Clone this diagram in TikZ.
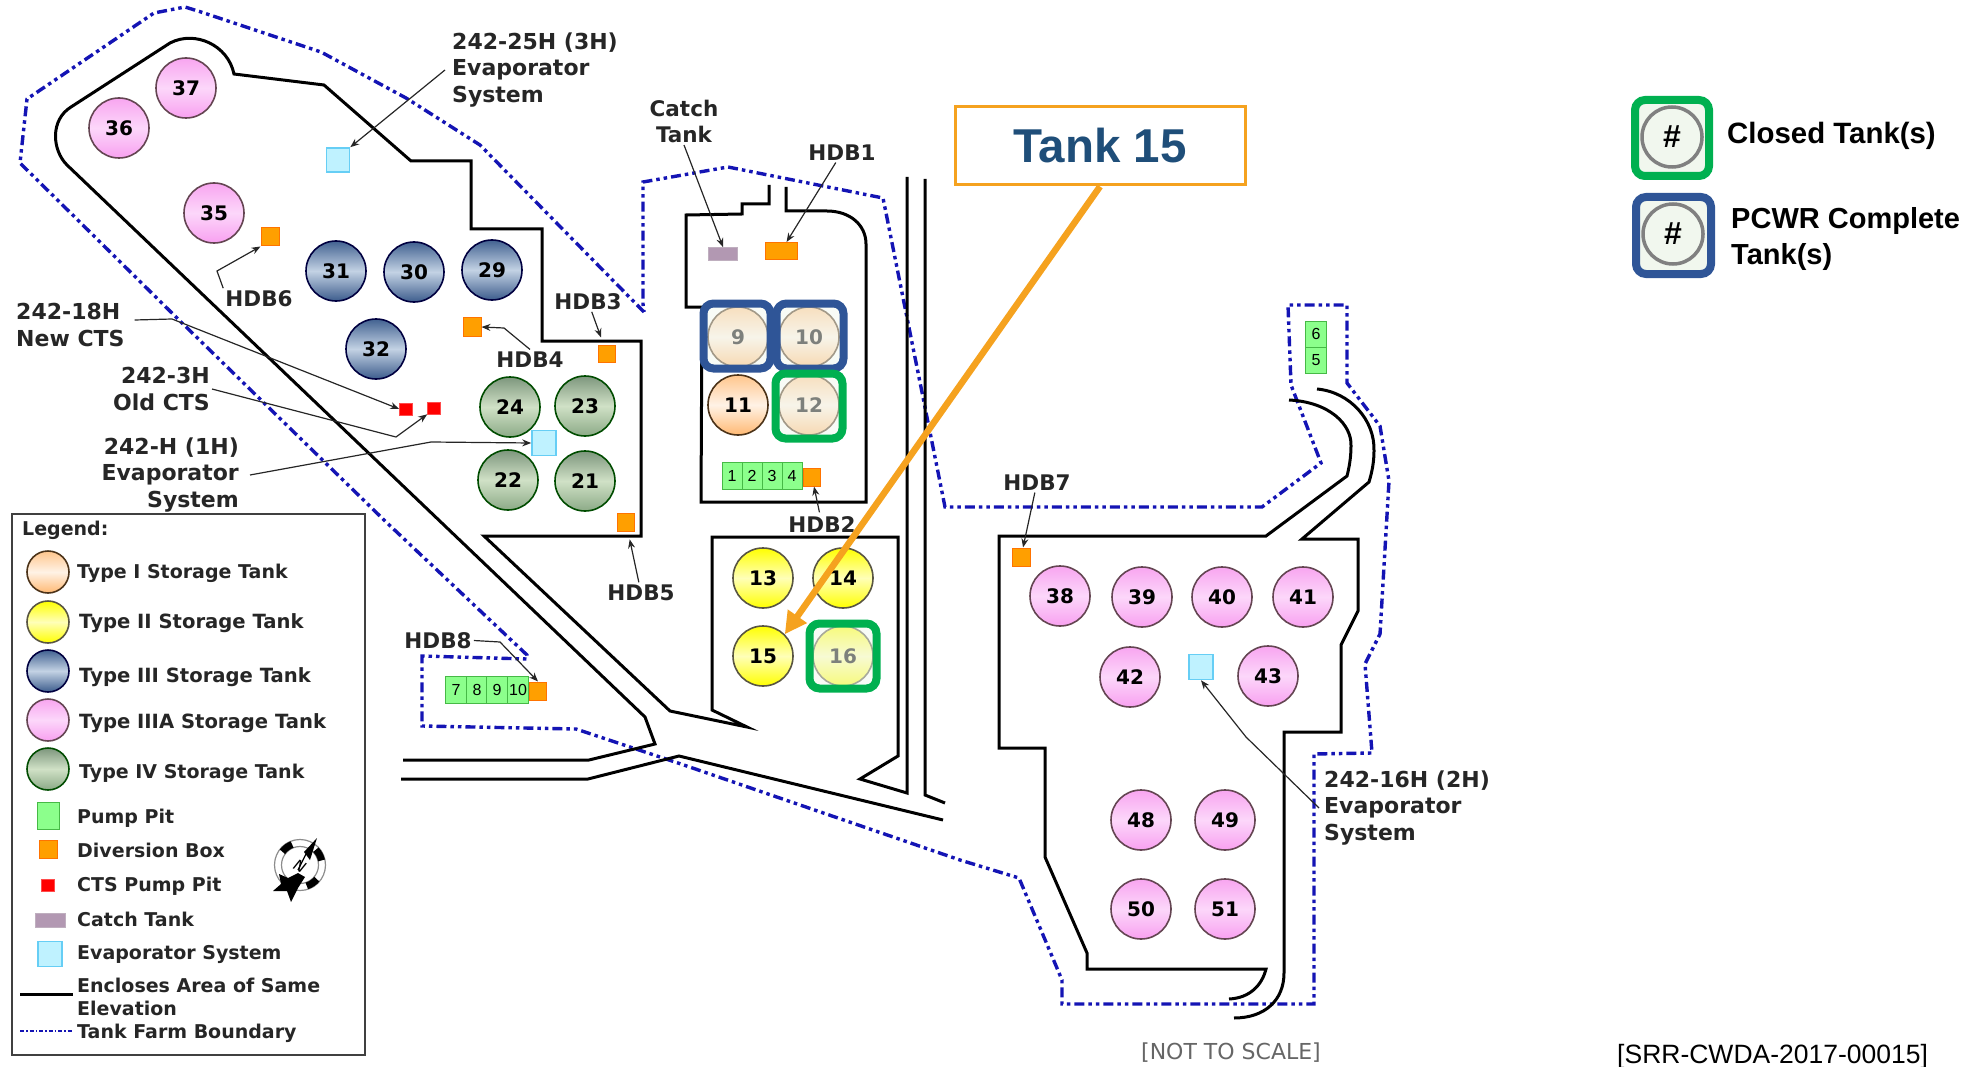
\documentclass[tikz,border=0pt]{standalone}
\usepackage{fontspec}
\setmainfont{DejaVu Sans}
\newfontfamily\arialfont{Liberation Sans}
\usetikzlibrary{arrows.meta}

\definecolor{boundblue}{HTML}{1414B4}
\definecolor{closedgreen}{HTML}{00B050}
\definecolor{pcwrblue}{HTML}{2F5597}
\definecolor{calloutorange}{HTML}{F5A21F}
\definecolor{titleblue}{HTML}{1F4E79}
\definecolor{markfill}{HTML}{F1F7EE}

\tikzset{
  tankbase/.style={circle, minimum size=60pt, inner sep=0pt, line width=1.6pt,
    font=\fontsize{20}{24}\selectfont\bfseries},
  typeone/.style={tankbase, draw=black!60!brown, top color=orange!45, bottom color=orange!55, middle color=orange!10},
  typetwo/.style={tankbase, draw=black!75!yellow, top color=yellow, bottom color=yellow, middle color=yellow!28},
  typethree/.style={tankbase, draw=black!75!blue, top color={rgb,255:red,66;green,98;blue,145}, bottom color={rgb,255:red,60;green,92;blue,140}, middle color={rgb,255:red,195;green,210;blue,228}},
  typefour/.style={tankbase, draw=black!70!green, top color={rgb,255:red,125;green,150;blue,125}, bottom color={rgb,255:red,140;green,170;blue,135}, middle color={rgb,255:red,208;green,225;blue,198}},
  typefive/.style={tankbase, draw=black!70!magenta, top color={rgb,255:red,248;green,165;blue,240}, bottom color={rgb,255:red,248;green,160;blue,240}, middle color={rgb,255:red,252;green,215;blue,250}},
  divbox/.style={rectangle, inner sep=0pt, fill=orange!75!yellow, draw=orange!90!red, line width=1pt},
  evapbox/.style={rectangle, inner sep=0pt, fill=blue!20!cyan!25, draw=cyan!60, line width=1.6pt},
  catchbox/.style={rectangle, inner sep=0pt, fill=violet!35!gray!60, draw=violet!25!gray!50, line width=.8pt},
  ctsbox/.style={rectangle, inner sep=0pt, fill=red, draw=red!70, line width=.6pt, minimum width=13pt, minimum height=12pt},
  pitbox/.style={rectangle, inner sep=0pt, fill=green!45, draw=green!45!gray, line width=1pt,
    font=\arialfont\fontsize{16}{18}\selectfont},
  closedmark/.style={rectangle, rounded corners=10pt, line width=8pt, draw=closedgreen,
    fill=markfill, fill opacity=.52, draw opacity=1, minimum width=67pt, minimum height=65pt},
  pcwrmark/.style={closedmark, draw=pcwrblue},
  keyring/.style={circle, draw=gray, line width=3.5pt, minimum size=60pt, inner sep=0pt,
    font=\arialfont\fontsize{32}{36}\selectfont\bfseries},
  slope/.style={line width=3pt, line join=miter},
  boundary/.style={boundblue, line width=3.4pt, dash pattern=on 10pt off 4pt on 3.5pt off 4pt on 3.5pt off 4pt},
  leader/.style={-{Stealth[length=9pt,width=7pt]}, line width=1.2pt, black!85},
  maplabel/.style={inner sep=2pt, yshift=-.5pt, align=left, font=\fontsize{21.5}{26}\selectfont\bfseries, black!85},
  longlabel/.style={maplabel, yshift=-1.5pt, font=\fontsize{22}{26.5}\selectfont\bfseries},
  keylabel/.style={inner sep=0pt, anchor=west, yshift=-1.5pt, font=\fontsize{19.6}{23}\selectfont\bfseries, black!85},
  keysmall/.style={keylabel, font=\fontsize{19}{23}\selectfont\bfseries},
}

\begin{document}
\begin{tikzpicture}[x=1pt, y=-1pt]
  \useasboundingbox (0,0) rectangle (1985,1067);

  % Tank farm boundary
  \draw[boundary] (644,312) -- (480,145) -- (406,98) -- (321,52) -- (201,12) -- (185,7) -- (154,13)
    -- (27,99) -- (20,163) -- (179,320) -- (384,520) -- (527,655) -- (527,659) -- (422,656) -- (422,726)
    -- (576,729) -- (678,763) -- (960,860) -- (1019,878) -- (1062,980) -- (1062,1004) -- (1314,1004)
    -- (1314,754) -- (1372,753) -- (1365,664) -- (1380,634) -- (1389,481) -- (1380,426) -- (1347,383)
    -- (1347,305) -- (1288,305) -- (1291,385) -- (1321,463) -- (1262,507) -- (945,507) -- (883,198)
    -- (728,167) -- (643,182) -- (643,304) -- cycle;

  % Areas of same elevation
  \draw[slope] (403,760) -- (589,760) -- (655,744) -- (645,717) -- (67,165)
    .. controls (52,150) and (50,120) .. (71,107) -- (170,43)
    .. controls (195,30) and (228,45) .. (234,74) -- (324,85) -- (411,161) -- (471,161) -- (471,229)
    -- (542,229) -- (542,341) -- (641,341) -- (641,536) -- (484,536) -- (670,711) -- (747,727)
    -- (712,710) -- (712,537) -- (898,537) -- (898,756) -- (860,779) -- (907,793) -- (907,177);
  \draw[slope] (401,779) -- (588,779) -- (679,756) -- (943,820);
  \draw[slope] (925,179) -- (925,795) -- (945,803);
  \draw[slope] (769,185) -- (769,204) -- (742,204) -- (742,214) -- (686,215) -- (686,307) -- (702,307)
    -- (701,502) -- (866,502) -- (866,244) .. controls (866,225) and (850,211) .. (827,211)
    -- (786,211) -- (786,187);
  \draw[slope] (1289,400) .. controls (1330,402) and (1352,425) .. (1351,446)
    .. controls (1351,458) and (1349,468) .. (1347,476) -- (1266,536) -- (999,536) -- (999,748)
    -- (1045,748) -- (1045,857) -- (1087,953) -- (1087,969) -- (1266,969)
    .. controls (1262,985) and (1250,998) .. (1229,999);
  \draw[slope] (1317,389) .. controls (1350,392) and (1375,420) .. (1374,451)
    .. controls (1374,462) and (1372,472) .. (1369,482) -- (1302,539) -- (1358,539) -- (1358,611)
    -- (1341,645) -- (1341,732) -- (1284,732) -- (1284,973)
    .. controls (1284,1000) and (1265,1018) .. (1234,1018);

  % Tanks
  \foreach \tanknum/\px/\py in {9/738/337, 10/809/337, 11/738/405, 12/809/405}
    \node[typeone] (t\tanknum) at (\px,\py) {\tanknum};
  \foreach \tanknum/\px/\py in {13/763/578, 14/843/578, 15/763/656, 16/843/656}
    \node[typetwo] (t\tanknum) at (\px,\py) {\tanknum};
  \foreach \tanknum/\px/\py in {29/492/270, 30/414/272, 31/336/271, 32/376/349}
    \node[typethree] (t\tanknum) at (\px,\py) {\tanknum};
  \foreach \tanknum/\px/\py in {21/585/481, 22/508/480, 23/585/406, 24/510/407}
    \node[typefour] (t\tanknum) at (\px,\py) {\tanknum};
  \foreach \tanknum/\px/\py in {35/214/213, 36/119/128, 37/186/88, 38/1060/596, 39/1142/597, 40/1222/597,
      41/1303/597, 42/1130/677, 43/1268/676, 48/1141/820, 49/1225/820, 50/1141/909, 51/1225/909}
    \node[typefive] (t\tanknum) at (\px,\py) {\tanknum};

  % Closed and PCWR complete marks over the tanks
  \node[pcwrmark] (mark9) at (737,336) {};
  \node[pcwrmark] (mark10) at (810,336) {};
  \node[closedmark] (mark12) at (809,406) {};
  \node[closedmark] (mark16) at (843,656) {};

  % Pump pits
  \foreach \pitnum/\px in {1/732, 2/752, 3/772, 4/792}
    \node[pitbox, minimum width=20pt, minimum height=27pt] (pit\pitnum) at (\px,476) {\pitnum};
  \foreach \pitnum/\px in {7/456, 8/477, 9/497, 10/518}
    \node[pitbox, minimum width=20.5pt, minimum height=27pt] (pitw\pitnum) at (\px,690) {\pitnum};
  \foreach \pitnum/\py in {6/334, 5/360}
    \node[pitbox, minimum width=21pt, minimum height=26pt] (pit\pitnum) at (1316,\py) {\pitnum};

  % Diversion boxes
  \node[divbox, minimum width=32pt, minimum height=17pt] (hdb1) at (781,251) {};
  \node[divbox, minimum width=17pt, minimum height=18pt] (hdb2) at (812,477) {};
  \node[divbox, minimum width=17pt, minimum height=17pt] (hdb3) at (607,354) {};
  \node[divbox, minimum width=18pt, minimum height=19pt] (hdb4) at (472,327) {};
  \node[divbox, minimum width=17pt, minimum height=18pt] (hdb5) at (626,522) {};
  \node[divbox, minimum width=18pt, minimum height=18pt] (hdb6) at (270,237) {};
  \node[divbox, minimum width=18pt, minimum height=18pt] (hdb7) at (1021,557) {};
  \node[divbox, minimum width=17pt, minimum height=18pt] (hdb8) at (538,691) {};

  % Evaporators, CTS pits and catch tank
  \node[evapbox, minimum width=23pt, minimum height=24pt] (evap3h) at (338,160) {};
  \node[evapbox, minimum width=24pt, minimum height=25pt] (evap1h) at (544,443) {};
  \node[evapbox, minimum width=24pt, minimum height=25pt] (evap2h) at (1201,667) {};
  \node[ctsbox] (ctsnew) at (406,409) {};
  \node[ctsbox] (ctsold) at (434,408) {};
  \node[catchbox, minimum width=29pt, minimum height=13pt] (catch) at (723,254) {};

  % Map labels
  \node[longlabel, anchor=west] (lbl3h) at (450,68) {242-25H (3H)\\Evaporator\\System};
  \node[maplabel, align=center] (lblcatch) at (684,121) {Catch\\Tank};
  \node[maplabel] (lblhdb1) at (842,152) {HDB1};
  \node[maplabel] (lblhdb2) at (822,524) {HDB2};
  \node[maplabel] (lblhdb3) at (588,301) {HDB3};
  \node[maplabel] (lblhdb4) at (530,359) {HDB4};
  \node[maplabel] (lblhdb5) at (641,592) {HDB5};
  \node[maplabel] (lblhdb6) at (259,298) {HDB6};
  \node[maplabel] (lblhdb7) at (1037,482) {HDB7};
  \node[maplabel] (lblhdb8) at (438,640) {HDB8};
  \node[longlabel, anchor=west] (lblnew) at (14,323) {242-18H\\New CTS};
  \node[longlabel, anchor=east, align=right] (lblold) at (212,387) {242-3H\\Old CTS};
  \node[longlabel, anchor=east, align=right] (lbl1h) at (241,473) {242-H (1H)\\Evaporator\\System};
  \node[longlabel, anchor=west] (lbl2h) at (1322,806) {242-16H (2H)\\Evaporator\\System};

  % Leaders
  \coordinate (bendhdb4) at (504,328);
  \coordinate (bendhdb6) at (217,271);
  \coordinate (bendhdb8) at (500,642);
  \coordinate (bendnew) at (172,319);
  \coordinate (bendold) at (396,437);
  \coordinate (bend1h) at (431,442);
  \coordinate (bend2h) at (1246,737);
  \draw[leader] ([xshift=-5pt]lbl3h.west) -- (evap3h.north east);
  \draw[leader] (lblcatch.south) -- (catch.north);
  \draw[leader] (lblhdb1) -- (hdb1);
  \draw[leader, shorten <=2pt] (lblhdb2) -- (hdb2);
  \draw[leader, shorten >=8pt] (lblhdb3) -- (hdb3);
  \draw[leader] (lblhdb4.north) -- (bendhdb4) -- (hdb4.east);
  \draw[leader, shorten >=8pt] (lblhdb5) -- (hdb5);
  \draw[leader] (lblhdb6.north west) -- (bendhdb6) -- (hdb6.south west);
  \draw[leader] (lblhdb7) -- (hdb7);
  \draw[leader] (lblhdb8.east) -- (bendhdb8) -- (hdb8.north);
  \draw[leader] ([yshift=5pt, xshift=8pt]lblnew.east) -- (bendnew) -- (ctsnew.west);
  \draw[leader] (lblold.east) -- (bendold) -- (ctsold.south west);
  \draw[leader] ([xshift=9pt]lbl1h.east) -- (bend1h) -- (evap1h.west);
  \draw[leader] ([xshift=-3pt]lbl2h.west) -- (bend2h) -- (evap2h.south);

  % Legend
  \node[draw=black!75, line width=2pt, minimum width=353pt, minimum height=541pt, inner sep=0pt] (legendbox) at (188.5,784.5) {};
  \node[keysmall] (keytitle) at (22,529) {Legend:};
  \node[typeone, minimum size=42pt] (keyone) at (48,572) {};
  \node[typetwo, minimum size=42pt] (keytwo) at (48,622) {};
  \node[typethree, minimum size=42pt] (keythree) at (48,671) {};
  \node[typefive, minimum size=42pt] (keyfive) at (48,720) {};
  \node[typefour, minimum size=42pt] (keyfour) at (48,769) {};
  \node[pitbox, minimum width=22pt, minimum height=27pt] (keypit) at (48,816) {};
  \node[divbox, minimum width=18pt, minimum height=18pt] (keydiv) at (48,849) {};
  \node[ctsbox] (keycts) at (48,885) {};
  \node[catchbox, minimum width=30pt, minimum height=14pt] (keycatch) at (50,920) {};
  \node[evapbox, minimum width=24pt, minimum height=25pt] (keyevap) at (50,954) {};
  \coordinate (keyslopea) at (20,994);
  \coordinate (keyslopeb) at (73,994);
  \coordinate (keybounda) at (20,1031);
  \coordinate (keyboundb) at (73,1031);
  \draw[slope] (keyslopea) -- (keyslopeb);
  \draw[boundblue, line width=1.6pt, dash pattern=on 4pt off 2pt on 1.5pt off 2pt] (keybounda) -- (keyboundb);
  \node[keysmall] (txtone) at (77,572) {Type I Storage Tank};
  \node[keylabel] (txttwo) at (79,622) {Type II Storage Tank};
  \node[keylabel] (txtthree) at (79,676) {Type III Storage Tank};
  \node[keylabel] (txtfive) at (79,722) {Type IIIA Storage Tank};
  \node[keysmall] (txtfour) at (79,772) {Type IV Storage Tank};
  \node[keysmall] (txtpit) at (77,817) {Pump Pit};
  \node[keysmall] (txtdiv) at (77,849) {Diversion Box};
  \node[keysmall] (txtcts) at (77,885) {CTS Pump Pit};
  \node[keysmall] (txtcatch) at (77,918) {Catch Tank};
  \node[keysmall] (txtevap) at (77,953) {Evaporator System};
  \node[keysmall] (txtslopea) at (77,984) {Encloses Area of Same};
  \node[keysmall] (txtslopeb) at (77,1007) {Elevation};
  \node[keysmall] (txtbound) at (77,1032) {Tank Farm Boundary};

  % North arrow
  \coordinate (compass) at (300,865);
  \draw[black!45, line width=1.2pt] (compass) circle (25.5) (compass) circle (18.5);
  \foreach \midangle in {-127, -28, 56}
    \draw[line width=7pt] (compass) ++(\midangle-16:22) arc (\midangle-16:\midangle+16:22);
  \fill (317,838) -- (310,860) -- (304,852) -- cycle;
  \draw[line width=1.2pt] (306,854) -- (298,870);
  \fill (279,874) -- (288,878) -- (298,873) -- (305,877) -- (298,888) -- (291,902) -- (287,891)
    -- (273,891) -- (281,884) -- cycle;
  \node[font=\fontsize{15}{17}\selectfont\itshape, rotate=-28, inner sep=0pt] (compassn) at (300,866) {N};

  % Callout
  \node[draw=calloutorange, line width=3pt, minimum width=290pt, minimum height=78pt, inner sep=0pt,
    text=titleblue, font=\arialfont\fontsize{47.5}{50}\selectfont\bfseries] (callout) at (1100,146) {Tank 15};
  \draw[calloutorange, line width=6.5pt, -{Triangle[length=22pt,width=22pt]}] (callout.south) -- (t15.north east);

  % Key for the marks
  \node[closedmark, fill opacity=1, minimum width=74pt, minimum height=76pt] (closedkey) at (1672,138) {};
  \node[keyring] (closedring) at (1672,137) {\#};
  \node[pcwrmark, fill opacity=1, minimum width=75pt, minimum height=77pt] (pcwrkey) at (1673.5,235.5) {};
  \node[keyring] (pcwrring) at (1673,234) {\#};
  \node[inner sep=0pt, anchor=west, font=\arialfont\fontsize{29.4}{36}\selectfont\bfseries] (closedtext) at (1727,136) {Closed Tank(s)};
  \node[inner sep=0pt, anchor=west, align=left, font=\arialfont\fontsize{29}{36}\selectfont\bfseries] (pcwrtext) at (1731,239) {PCWR Complete\\Tank(s)};

  % Notes
  \node[inner sep=0pt, text=black!60, font=\fontsize{22}{24}\selectfont] (noscale) at (1231,1053) {[NOT TO SCALE]};
  \node[inner sep=0pt, anchor=west, font=\arialfont\fontsize{26.5}{30}\selectfont] (docref) at (1617,1057) {[SRR-CWDA-2017-00015]};
\end{tikzpicture}
\end{document}
